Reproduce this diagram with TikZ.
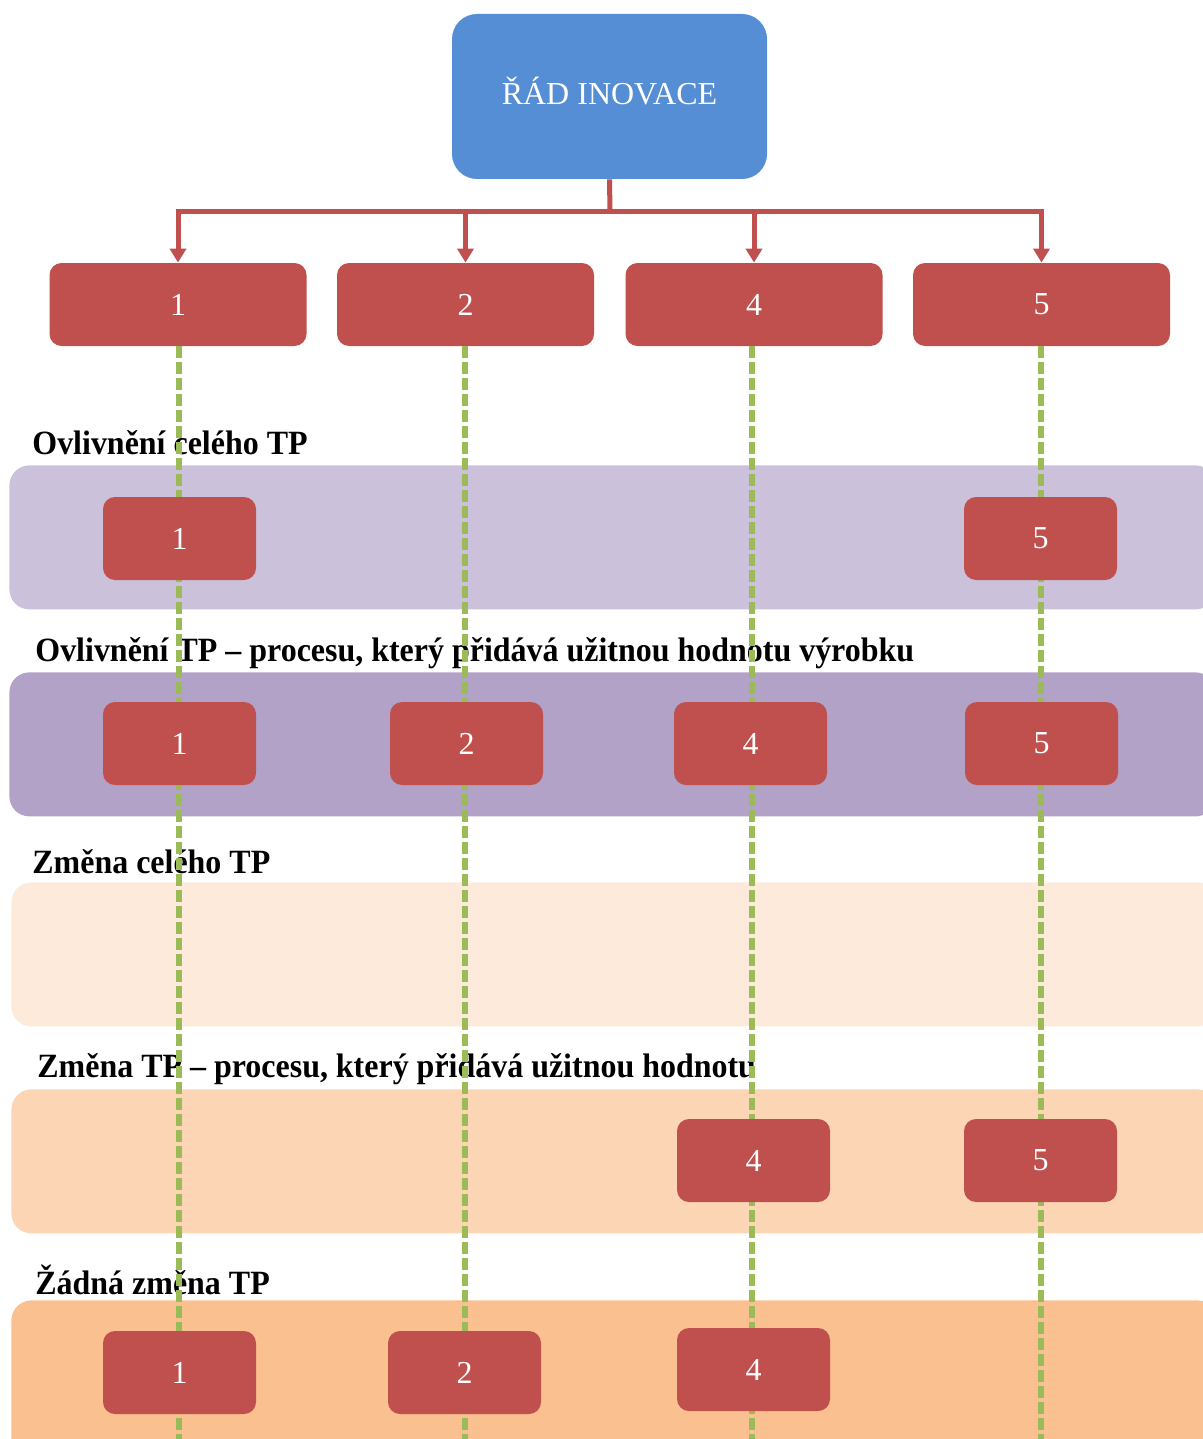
\documentclass[tikz,border=0pt]{standalone}
\usepackage{fontspec}
\setmainfont{Liberation Serif}
\usetikzlibrary{arrows.meta}
\definecolor{topblue}{HTML}{558ED5}
\definecolor{boxred}{HTML}{C0504D}
\definecolor{dashgreen}{HTML}{9BBB59}
\definecolor{bandA}{HTML}{CCC1DA}
\definecolor{bandB}{HTML}{B3A2C7}
\definecolor{bandC}{HTML}{FDEADA}
\definecolor{bandD}{HTML}{FCD5B5}
\definecolor{bandE}{HTML}{FAC090}
\newcommand{\narrowtext}[1]{\scalebox{0.94}[1]{#1}}
\begin{document}
\begin{tikzpicture}[x=0.5pt,y=-0.5pt,
 numbox/.style={fill=boxred, rounded corners=6pt, minimum width=76.5pt, minimum height=41.5pt, inner sep=0pt, text=white, font=\fontsize{16}{18}\selectfont},
 bigbox/.style={numbox, minimum width=128.5pt},
 band/.style={rounded corners=10pt, minimum width=603pt, minimum height=72pt, anchor=north west, inner sep=0pt},
 lbl/.style={anchor=west, inner sep=0pt, font=\bfseries\fontsize{17}{19}\selectfont},
 link/.style={draw=boxred, line width=2.5pt, -{Triangle[width=8pt,length=7pt]}},
 guide/.style={draw=dashgreen, line width=2.8pt, dash pattern=on 6pt off 2pt}]
\useasboundingbox (0,0) rectangle (1203,1439);
\clip (0,0) rectangle (1203,1439);
% bands
\node[band, fill=bandA] (bandA) at (9,465) {};
\node[band, fill=bandB] (bandB) at (9,672) {};
\node[band, fill=bandC] (bandC) at (11,882) {};
\node[band, fill=bandD] (bandD) at (11,1089) {};
\node[band, fill=bandE, minimum height=80pt] (bandE) at (11,1300) {};
% labels
\node[lbl] (lA) at (32,443) {\narrowtext{Ovlivnění celého TP}};
\node[lbl] (lB) at (35,653) {\narrowtext{Ovlivnění TP – procesu, který přidává užitnou hodnotu výrobku}};
\node[lbl] (lC) at (32,862) {\narrowtext{Změna celého TP}};
\node[lbl] (lD) at (37,1069) {\narrowtext{Změna TP – procesu, který přidává užitnou hodnotu}};
\node[lbl] (lE) at (35,1280) {\narrowtext{Žádná změna TP}};
% top
\node[fill=topblue, rounded corners=12.5pt, minimum width=157.5pt, minimum height=82.5pt, text depth=6pt, text=white, font=\fontsize{16}{18}\selectfont] (top) at (609.5,96.5) {ŘÁD INOVACE};
\node[bigbox] (b1) at (178,304.5) {1};
\node[bigbox] (b2) at (465.5,304.5) {2};
\node[bigbox] (b4) at (754,304.5) {4};
\node[bigbox] (b5) at (1041.5,304.5) {5};
\coordinate (hub) at (610,212);
\draw[draw=boxred, line width=2.5pt] (top.south) -- (hub);
\draw[link] (hub) -| (b1.north);
\draw[link] (hub) -| (b2.north);
\draw[link] (hub) -| (b4.north);
\draw[link] (hub) -| (b5.north);
% guides
\coordinate (e1) at (179,1445);
\coordinate (e2) at (465,1445);
\coordinate (e4) at (752,1445);
\coordinate (e5) at (1041,1445);
\draw[guide] (b1.south -| e1) -- (e1);
\draw[guide] (b2.south -| e2) -- (e2);
\draw[guide] (b4.south -| e4) -- (e4);
\draw[guide] (b5.south -| e5) -- (e5);
% band boxes
\node[numbox] (a1) at (179.5,538.5) {1};
\node[numbox] (a5) at (1040.5,538.5) {5};
\node[numbox] (c1) at (179.5,743.5) {1};
\node[numbox] (c2) at (466.5,743.5) {2};
\node[numbox] (c4) at (750.5,743.5) {4};
\node[numbox] (c5) at (1041.5,743.5) {5};
\node[numbox] (d4) at (753.5,1160.5) {4};
\node[numbox] (d5) at (1040.5,1160.5) {5};
\node[numbox] (f1) at (179.5,1372.5) {1};
\node[numbox] (f2) at (464.5,1372.5) {2};
\node[numbox] (f4) at (753.5,1369.5) {4};
\end{tikzpicture}
\end{document}
